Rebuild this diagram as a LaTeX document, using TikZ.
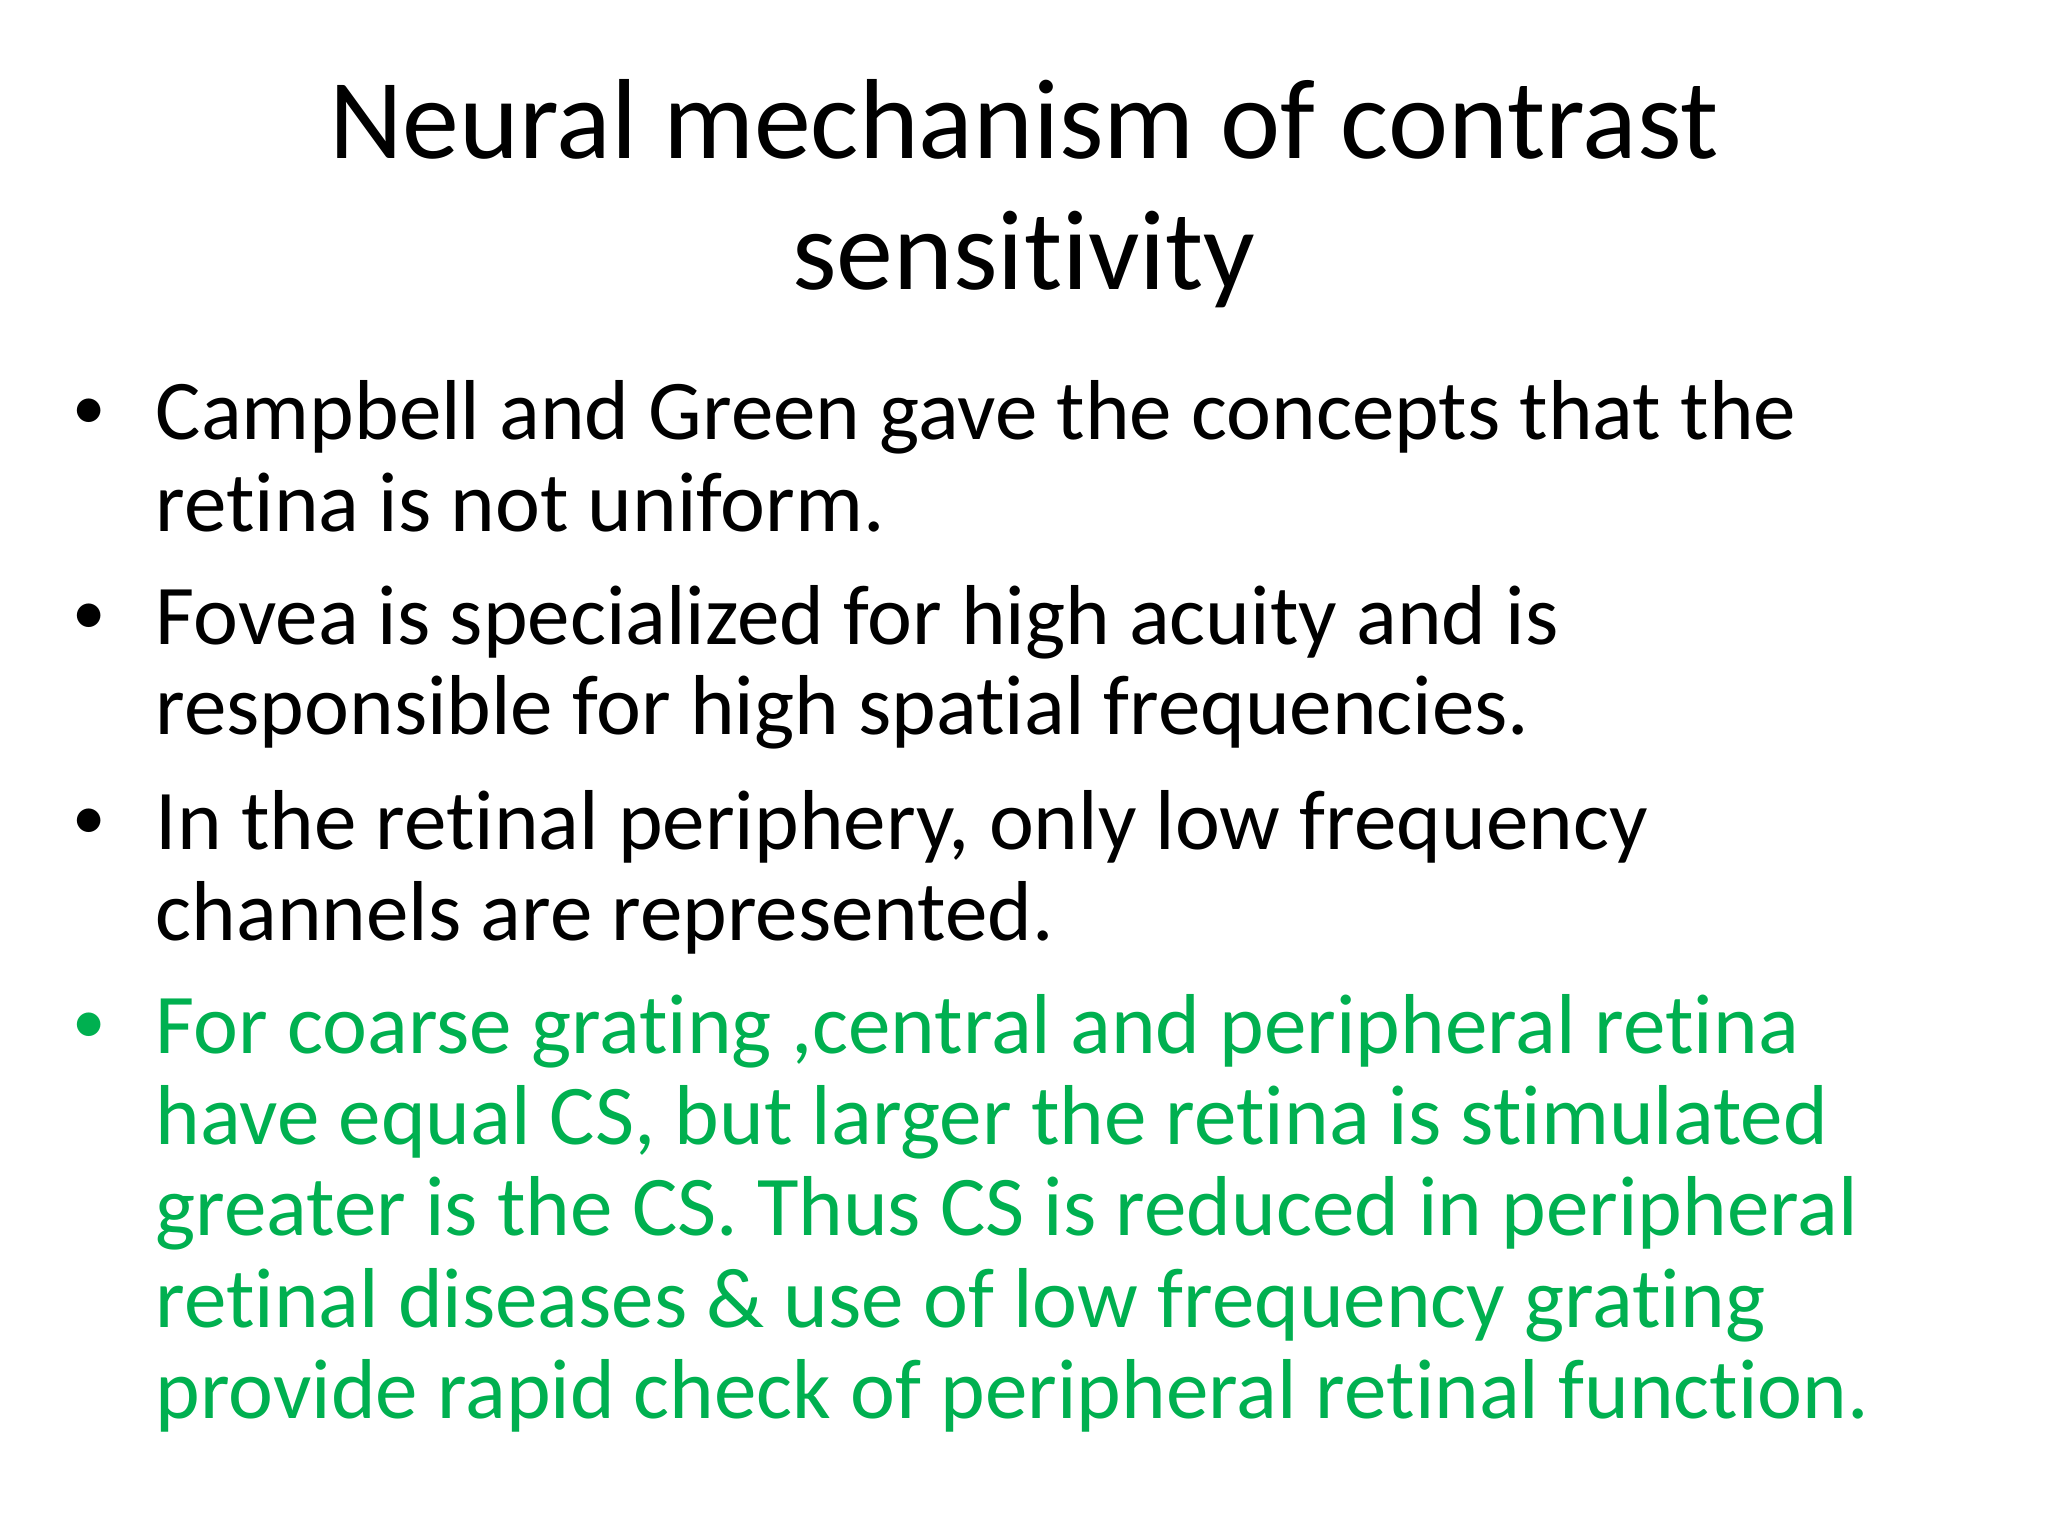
\documentclass[tikz,border=0pt]{standalone}
\usepackage{fontspec}
\setmainfont[Ligatures=NoCommon]{Carlito}
\definecolor{grn}{RGB}{0,176,80}
\begin{document}
\begin{tikzpicture}
\useasboundingbox[fill=white] (0,0) rectangle (20.48,-15.36);
\tikzset{ttl/.style={anchor=base,inner sep=0pt,font=\fontsize{32.4}{38}\selectfont},
 ln/.style={anchor=base west,inner sep=0pt,font=\fontsize{24.2}{29}\selectfont},
 bul/.style={anchor=base,inner sep=0pt,font=\fontsize{19}{23}\selectfont}}
\node[ttl] (t1) at (10.24,-1.59) {Neural mechanism of contrast};
\node[ttl] (t2) at (10.24,-2.90) {sensitivity};
\node[bul] (b1) at (0.89,-4.30) {•};
\node[ln] (l1) at (1.55,-4.40) {Campbell and Green gave the concepts that the};
\node[ln] (l2) at (1.55,-5.32) {retina is not uniform.};
\node[bul] (b2) at (0.89,-6.34) {•};
\node[ln] (l3) at (1.55,-6.44) {Fovea is specialized for high acuity and is};
\node[ln] (l4) at (1.55,-7.35) {responsible for high spatial frequencies.};
\node[bul] (b3) at (0.89,-8.39) {•};
\node[ln] (l5) at (1.55,-8.49) {In the retinal periphery, only low frequency};
\node[ln] (l6) at (1.55,-9.40) {channels are represented.};
\node[bul,text=grn] (b4) at (0.89,-10.43) {•};
\node[ln,text=grn] (l7) at (1.55,-10.53) {For coarse grating ,central and peripheral retina};
\node[ln,text=grn] (l8) at (1.55,-11.44) {have equal CS, but larger the retina is stimulated};
\node[ln,text=grn] (l9) at (1.55,-12.35) {greater is the CS. Thus CS is reduced in peripheral};
\node[ln,text=grn] (l10) at (1.55,-13.27) {retinal diseases \& use of low frequency grating};
\node[ln,text=grn] (l11) at (1.55,-14.18) {provide rapid check of peripheral retinal function.};
\end{tikzpicture}
\end{document}
